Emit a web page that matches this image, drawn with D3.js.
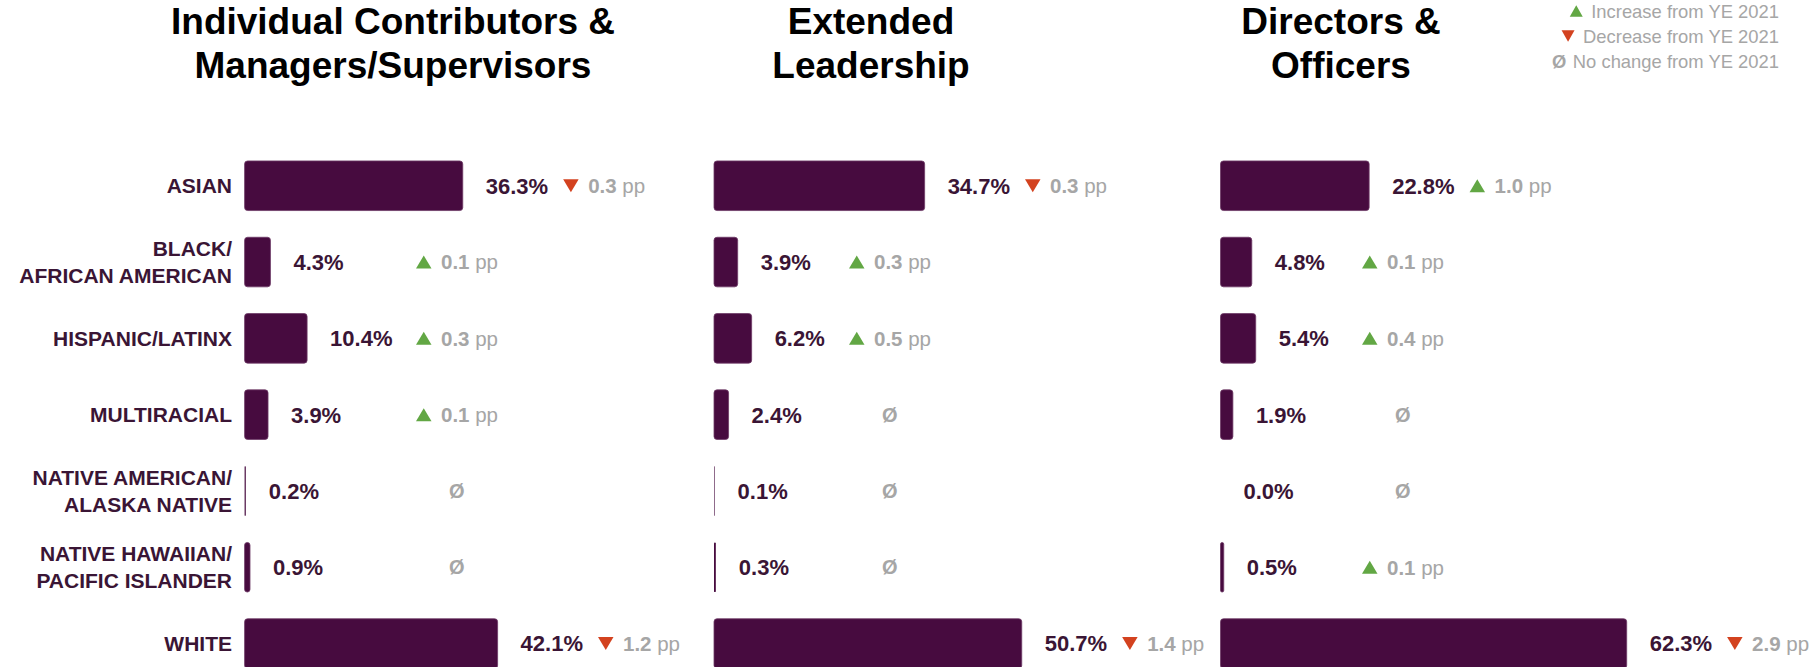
<!DOCTYPE html>
<html><head><meta charset="utf-8">
<script src="https://cdn.jsdelivr.net/npm/d3@7"></script>
<style>body{margin:0;background:#fff} svg{display:block;font-family:"Liberation Sans",Arial,sans-serif}</style>
</head><body><svg id="chart" width="1817" height="667"></svg>
<script>
// ---- data ----
const categories = ["ASIAN", "BLACK/ AFRICAN AMERICAN", "HISPANIC/LATINX", "MULTIRACIAL",
  "NATIVE AMERICAN/ ALASKA NATIVE", "NATIVE HAWAIIAN/ PACIFIC ISLANDER", "WHITE"];
const panelTitles = [["Individual Contributors &", "Managers/Supervisors"], ["Extended", "Leadership"], ["Directors &", "Officers"]];
const icValues = [36.3, 4.3, 10.4, 3.9, 0.2, 0.9, 42.1];
const icChange = [-0.3, 0.1, 0.3, 0.1, 0, 0, -1.2];
const elValues = [34.7, 3.9, 6.2, 2.4, 0.1, 0.3, 50.7];
const elChange = [-0.3, 0.3, 0.5, 0, 0, 0, -1.4];
const doValues = [22.8, 4.8, 5.4, 1.9, 0.0, 0.5, 62.3];
const doChange = [1.0, 0.1, 0.4, 0, 0, 0.1, -2.9];
const legendLabels = ["Increase from YE 2021", "Decrease from YE 2021", "No change from YE 2021"];
const legendKinds = [1, -1, 0];

// ---- layout / style ----
const C = { bar: "#470b3f", barStroke: "#6d3a66", text: "#3a1535", grey: "#a6a6a6", up: "#62a744", down: "#d3421f" };
const panels = [
  { title: panelTitles[0], values: icValues, changes: icChange, x0: 244.6, k: 6.01, titleX: 393, col: 416 },
  { title: panelTitles[1], values: elValues, changes: elChange, x0: 714, k: 6.07, titleX: 871, col: 849 },
  { title: panelTitles[2], values: doValues, changes: doChange, x0: 1220.5, k: 6.52, titleX: 1341, col: 1362 }
];

const svg = d3.select("#chart");
const y = d3.scaleBand().domain(categories).range([147.6, 681.7]).paddingInner(0.35).paddingOuter(0.175);

// category axis
const axisG = svg.append("g").attr("transform", "translate(232,0)")
  .call(d3.axisLeft(y).tickSize(0).tickPadding(0));
axisG.select(".domain").remove();
axisG.selectAll("text").each(function(d) {
  const t = d3.select(this);
  const lines = d.split(/(?<=\/) /);
  t.text(null).attr("dy", null).attr("x", 0)
    .attr("fill", C.text).attr("font-size", 21).attr("font-weight", "bold")
    .attr("font-family", "Liberation Sans, Arial, sans-serif").attr("text-anchor", "end");
  lines.forEach((ln, i) => {
    t.append("tspan").attr("x", 0).attr("y", (i - (lines.length - 1) / 2) * 27.2).attr("dy", "0.36em").text(ln);
  });
});

function triPath(x, cy, w, h, dir) {
  if (dir > 0) return `M${x},${cy + h / 2}L${x + w / 2},${cy - h / 2}L${x + w},${cy + h / 2}Z`;
  return `M${x},${cy - h / 2}L${x + w / 2},${cy + h / 2}L${x + w},${cy - h / 2}Z`;
}

panels.forEach(p => {
  const x = d3.scaleLinear().domain([0, 100]).range([p.x0, p.x0 + 100 * p.k]);
  const g = svg.append("g");
  // title
  g.append("text").attr("x", p.titleX).attr("text-anchor", "middle")
    .attr("font-size", 37).attr("font-weight", "bold").attr("fill", "#000")
    .selectAll("tspan").data(p.title).join("tspan")
    .attr("x", p.titleX).attr("y", (d, i) => 34 + i * 44).text(d => d);

  const rows = categories.map((c, i) => ({ c, v: p.values[i], ch: p.changes[i] }));
  g.selectAll("rect.bar").data(rows.filter(r => r.v > 0)).join("rect").attr("class", "bar")
    .attr("x", x(0)).attr("y", r => y(r.c))
    .attr("width", r => x(r.v) - x(0)).attr("height", y.bandwidth())
    .attr("rx", r => Math.min(3, (x(r.v) - x(0)) / 2))
    .attr("fill", C.bar).attr("stroke", r => x(r.v) - x(0) > 3 ? C.barStroke : "none").attr("stroke-width", 0.8);

  rows.forEach(r => {
    const cy = y(r.c) + y.bandwidth() / 2;
    const lx = x(r.v) + 23;
    const lab = g.append("text").attr("x", lx).attr("y", cy).attr("dy", "0.36em")
      .attr("font-size", 22).attr("font-weight", "bold").attr("fill", C.text)
      .text(r.v.toFixed(1) + "%");
    const end = lx + lab.node().getComputedTextLength();
    const cx = Math.max(p.col, end + 15);
    if (r.ch === 0) {
      g.append("text").attr("x", p.col + 33).attr("y", cy).attr("dy", "0.36em")
        .attr("font-size", 20).attr("font-weight", "bold").attr("fill", C.grey).text("Ø");
    } else {
      const dir = r.ch > 0 ? 1 : -1;
      g.append("path").attr("d", triPath(cx, cy, 15.5, 13, dir)).attr("fill", dir > 0 ? C.up : C.down);
      const t = g.append("text").attr("x", cx + 25).attr("y", cy).attr("dy", "0.36em")
        .attr("font-size", 20.5).attr("fill", C.grey);
      t.append("tspan").attr("font-weight", "bold").text(Math.abs(r.ch).toFixed(1));
      t.append("tspan").text(" pp");
    }
  });
});

// legend
const legY = [11, 36, 61.7];
const legRight = 1779;
legendLabels.forEach((lab, i) => {
  const t = svg.append("text").attr("x", legRight).attr("y", legY[i]).attr("dy", "0.36em")
    .attr("text-anchor", "end").attr("font-size", 18.4).attr("fill", C.grey).text(lab);
  const w = t.node().getComputedTextLength();
  const sx = legRight - w - 8.5;
  const kind = legendKinds[i];
  if (kind === 0) {
    svg.append("text").attr("x", sx + 2).attr("y", legY[i]).attr("dy", "0.36em")
      .attr("text-anchor", "end").attr("font-size", 18.4).attr("font-weight", "bold").attr("fill", C.grey).text("Ø");
  } else {
    svg.append("path").attr("d", triPath(sx - 13, legY[i], 13, 11.7, kind)).attr("fill", kind > 0 ? C.up : C.down);
  }
});
</script></body></html>
